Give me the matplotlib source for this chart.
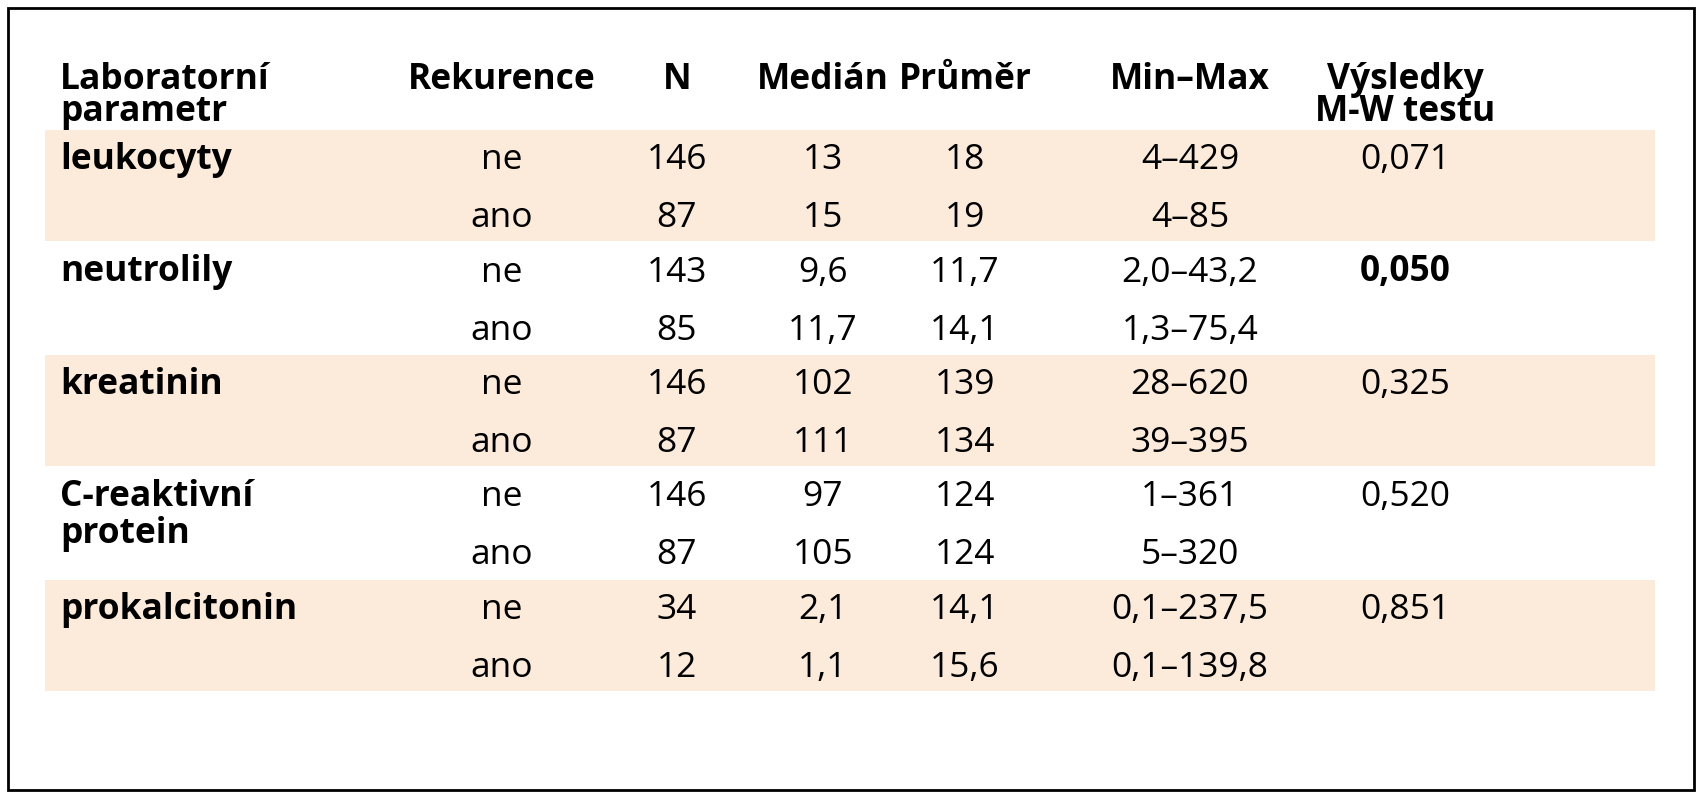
import matplotlib.pyplot as plt
from matplotlib.patches import Rectangle

plt.rcParams['font.family'] = ['Open Sans', 'DejaVu Sans']

headers = [["Laboratorní", "parametr"], ["Rekurence"], ["N"], ["Medián"],
           ["Průměr"], ["Min–Max"], ["Výsledky", "M-W testu"]]
params = [["leukocyty"], ["neutrolily"], ["kreatinin"], ["C-reaktivní", "protein"], ["prokalcitonin"]]
rekurence = ["ne", "ano"]
n_vals = [[146, 87], [143, 85], [146, 87], [146, 87], [34, 12]]
median = [["13", "15"], ["9,6", "11,7"], ["102", "111"], ["97", "105"], ["2,1", "1,1"]]
prumer = [["18", "19"], ["11,7", "14,1"], ["139", "134"], ["124", "124"], ["14,1", "15,6"]]
minmax = [["4–429", "4–85"], ["2,0–43,2", "1,3–75,4"], ["28–620", "39–395"],
          ["1–361", "5–320"], ["0,1–237,5", "0,1–139,8"]]
mw = ["0,071", "0,050", "0,325", "0,520", "0,851"]
mw_bold = [False, True, False, False, False]

fig = plt.figure(figsize=(17.02, 8), dpi=100)
ax = fig.add_axes([0, 0, 1, 1])
ax.set_xlim(0, 1702)
ax.set_ylim(800, 0)
ax.axis('off')

ax.add_patch(Rectangle((8, 8), 1686, 782, fill=False, lw=2, ec='black'))

shade = '#fcebdb'
band_top = 130
band_h = 112.5
for i in range(len(params)):
    if i % 2 == 0:
        ax.add_patch(Rectangle((45, band_top + i * band_h), 1610, band_h - 2,
                               fc=shade, ec='none'))

col_x = [60, 502, 677, 823, 965, 1190, 1405]
fs = 25.5
for j, h in enumerate(headers):
    ha = 'left' if j == 0 else 'center'
    for k, line in enumerate(h):
        ax.text(col_x[j], 80 + k * 32, line, ha=ha, va='center',
                fontsize=fs, fontweight='bold')

for i in range(len(params)):
    y0 = band_top + i * band_h
    ys = [y0 + 30, y0 + 88]
    for k, line in enumerate(params[i]):
        ax.text(col_x[0], y0 + 30 + k * 37, line, ha='left', va='center', fontsize=fs,
                fontweight='bold')
    for r in range(2):
        vals = [rekurence[r], str(n_vals[i][r]), median[i][r], prumer[i][r], minmax[i][r]]
        for j, v in enumerate(vals):
            ax.text(col_x[j + 1], ys[r], v, ha='center', va='center', fontsize=fs)
    ax.text(col_x[6], ys[0], mw[i], ha='center', va='center', fontsize=fs,
            fontweight='bold' if mw_bold[i] else 'normal')

fig.savefig('out.png', dpi=100)
